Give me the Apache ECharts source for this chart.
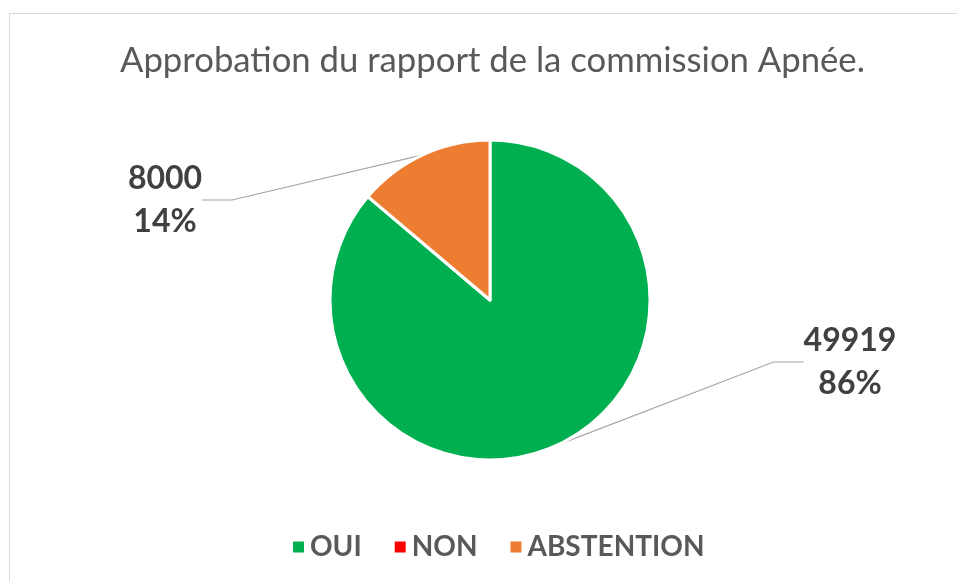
<!DOCTYPE html>
<html>
<head>
<meta charset="utf-8">
<script src="https://cdn.jsdelivr.net/npm/echarts@6/dist/echarts.min.js"></script>
<style>
  html, body { margin: 0; padding: 0; background: #fff; }
  #frame {
    position: absolute;
    left: 9px;
    top: 13px;
    width: 948px;
    height: 568px;
    border-top: 1px solid #d9d9d9;
    border-left: 1px solid #d9d9d9;
  }
  #chart { position: absolute; left: 0; top: 0; width: 957px; height: 581px; }
</style>
</head>
<body>
<div id="frame"></div>
<div id="chart"></div>
<script>
const titleText = "Approbation du rapport de la commission Apnée.";
const categories = ["OUI", "NON", "ABSTENTION"];
const values = [49919, 0, 8000];
const colors = ["#00B050", "#FF0000", "#ED7D31"];
// where each data label sits (centre of the text block)
const labelSpots = [[850, 362], null, [165, 200]];

const chart = echarts.init(document.getElementById("chart"));

const option = {
  animation: false,
  title: {
    text: titleText,
    left: 115,
    top: 38,
    textStyle: {
      fontFamily: "Lato",
      fontSize: 34.7,
      fontWeight: "normal",
      color: "#595959"
    }
  },
  legend: {
    bottom: 15,
    left: 286,
    itemWidth: 13,
    itemHeight: 13,
    itemGap: 31,
    icon: "rect",
    textStyle: {
      fontFamily: "Lato",
      fontSize: 28,
      fontWeight: "bold",
      color: "#595959"
    },
    data: categories
  },
  series: [{
    type: "pie",
    center: [490, 300],
    radius: 160,
    startAngle: 90,
    clockwise: true,
    itemStyle: { borderColor: "#fff", borderWidth: 3 },
    label: {
      show: true,
      formatter: p => p.value + "\n" + Math.round(p.percent) + "%",
      fontFamily: "Lato",
      fontSize: 32,
      fontWeight: "bold",
      lineHeight: 43,
      color: "#404040",
      align: "center"
    },
    labelLine: {
      show: true,
      lineStyle: { color: "#a6a6a6", width: 1.2 }
    },
    labelLayout: function (params) {
      const spot = labelSpots[params.dataIndex];
      if (!spot) return {};
      return { x: spot[0], y: spot[1], align: "center", verticalAlign: "middle" };
    },
    data: categories.map((name, i) => ({
      name: name,
      value: values[i],
      itemStyle: { color: colors[i] },
      label: { show: values[i] > 0 },
      labelLine: { show: values[i] > 0 }
    }))
  }]
};

chart.setOption(option);
</script>
</body>
</html>
